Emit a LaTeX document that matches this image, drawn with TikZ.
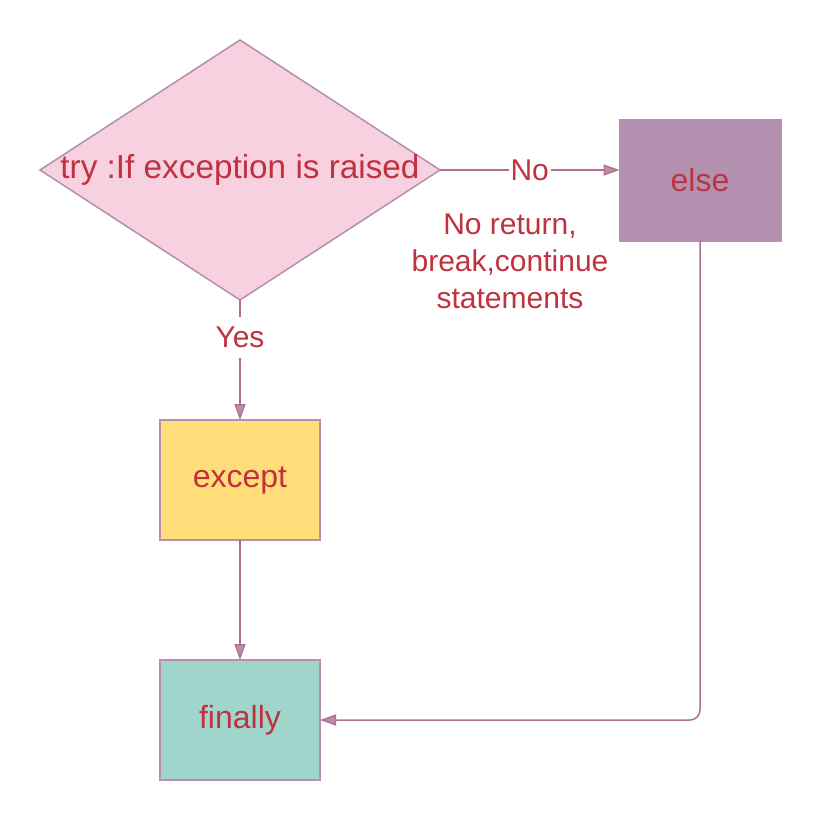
\documentclass[tikz,border=0pt]{standalone}
\usepackage{fontspec}
\setmainfont{Liberation Sans}
\usetikzlibrary{arrows.meta,positioning,shapes.geometric}
\definecolor{txtred}{RGB}{192,50,64}
\definecolor{linepurple}{RGB}{178,112,144}
\definecolor{edgepurple}{RGB}{180,143,176}
\definecolor{trypink}{RGB}{247,209,224}
\definecolor{elsemauve}{RGB}{180,145,176}
\definecolor{exceptyellow}{RGB}{255,222,121}
\definecolor{finallyteal}{RGB}{159,213,203}
\tikzset{
>={Triangle[length=16pt,width=11pt,fill=edgepurple]},
  decision/.style={
    diamond,
    aspect=1.538,
    draw=edgepurple, line width=1.5pt,
    fill=trypink,
    minimum width=400pt,
    minimum height=260pt,
    inner sep=0pt, outer sep=0pt},
  block/.style={
    rectangle,
    draw=edgepurple, line width=2pt,
    minimum width=160pt,
    minimum height=120pt,
    outer sep=0pt,
    text=txtred,
    font=\fontsize{32}{38}\selectfont},
  words/.style={text=txtred, font=\fontsize{33.3}{38}\selectfont},
  lbl/.style={text=txtred, font=\fontsize{30}{37}\selectfont},
  line/.style={draw=linepurple, line width=1.5pt, ->},
}
\begin{document}
\begin{tikzpicture}
  [x=1pt, y=-1pt, node distance=120pt]
  \useasboundingbox (0,0) rectangle (820,820);
  % the question and its three outcomes
  \node[decision] (try) at (240,170) {};
  \node[words] (trytext) at (try.center) {try :If exception is raised};
  \node[block, fill=elsemauve, draw=elsemauve, minimum width=161pt,
    minimum height=121pt] (else) at (700,180) {else};
  \node[block, fill=exceptyellow, below=of try.south] (except) {except};
  \node[block, fill=finallyteal, below=of except] (finally) {finally};
  %% the note under the No branch
  \node[lbl, align=center] (note) at (510,261)
    {No return,\\break,continue\\statements};
  % connectors
  \draw[line] (try.east) -- node[lbl, fill=white, inner xsep=2pt] (no) {No}
    (try.east -| else.west);
  \draw[line] (try.south) -- node[lbl, pos=0.31, fill=white, inner ysep=10pt]
    (yes) {Yes} (except.north);
  \draw[line] (except.south) -- (finally.north);
  \draw[line, rounded corners=10pt] (else.south) |- (finally.east);
\end{tikzpicture}
\end{document}
